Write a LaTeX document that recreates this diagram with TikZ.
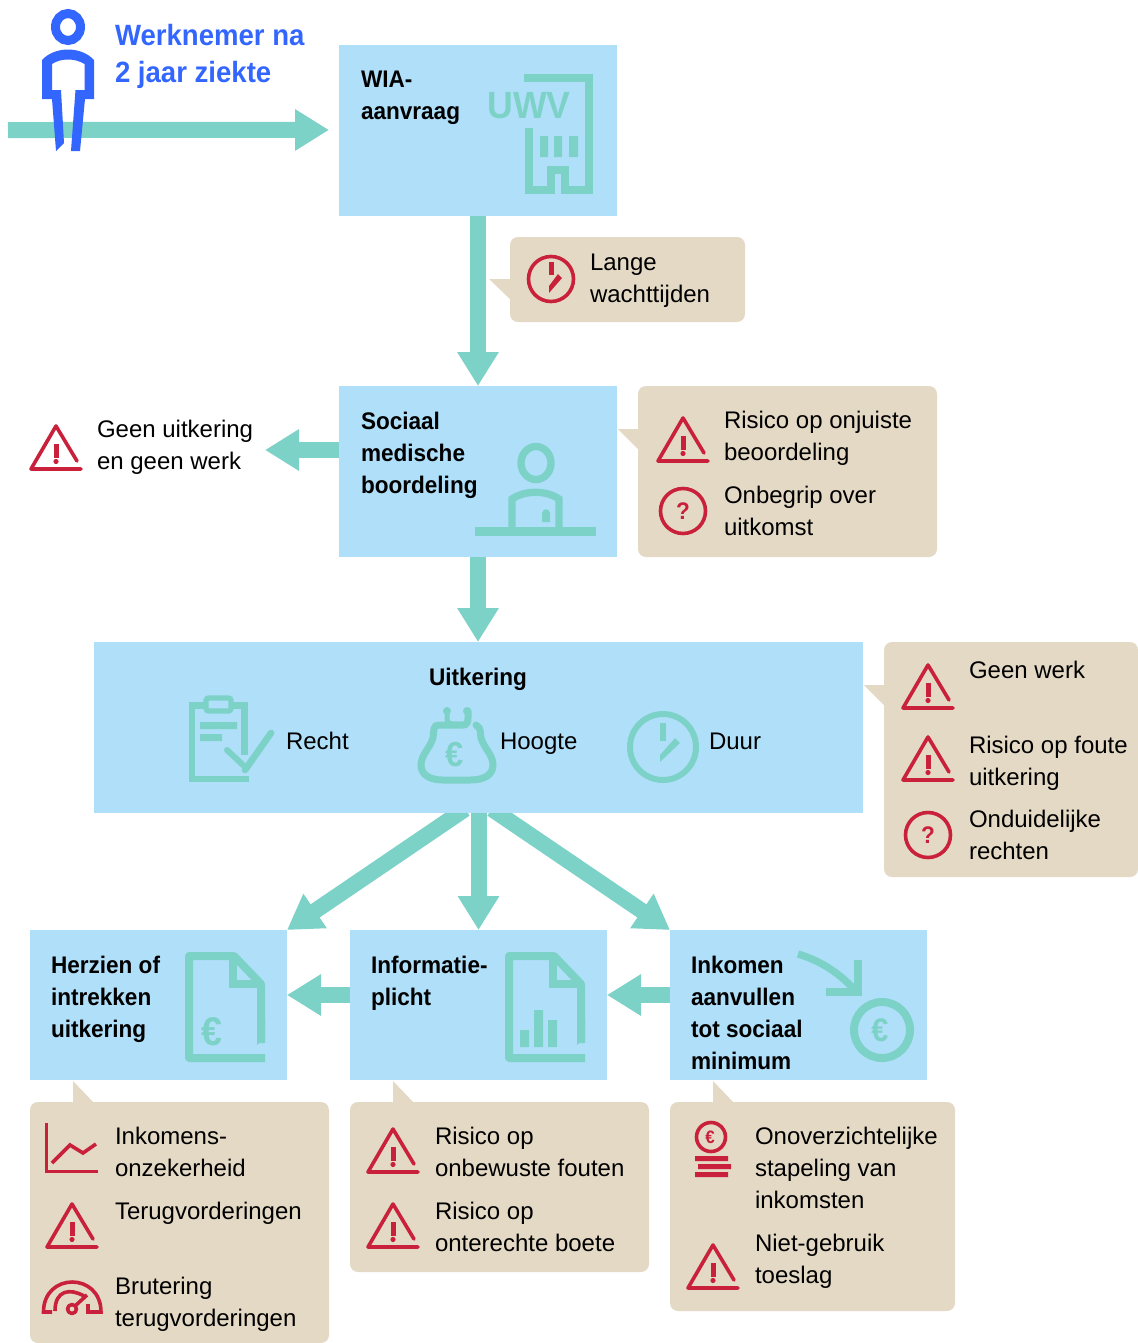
\documentclass[tikz,border=0pt]{standalone}
\usepackage{fontspec}
\setmainfont[BoldFeatures={FakeStretch=0.94}]{Liberation Sans}
\usetikzlibrary{arrows.meta}
\definecolor{skyb}{HTML}{B0DFF9}
\definecolor{tealc}{HTML}{7DD2C8}
\definecolor{beige}{HTML}{E4D9C5}
\definecolor{redc}{HTML}{C9213B}
\definecolor{bluec}{HTML}{3366FF}
\tikzset{
  flow/.style={draw=tealc,line width=12pt,-{Triangle[length=25.5pt,width=29.5pt,fill=tealc]}},
  bluebox/.style={fill=skyb,inner sep=0pt,outer sep=0pt,anchor=north west},
  callout/.style={fill=beige,rounded corners=6pt,inner sep=0pt,outer sep=0pt,anchor=north west},
  pointer/.style={fill=beige},
  txt/.style={anchor=north west,inner sep=0pt,outer sep=0pt,align=left,font=\fontsize{18pt}{24pt}\selectfont},
  btxt/.style={txt,font=\fontsize{18pt}{24pt}\selectfont\bfseries},
  hd/.style={txt,text=bluec,font=\fontsize{22pt}{27.75pt}\selectfont\bfseries},
  rstroke/.style={draw=redc,line width=2.7pt,line cap=round,line join=round},
  tstroke/.style={draw=tealc,line width=6pt,line join=miter},
}
\newcommand{\bx}[6]{\node[#6,minimum width={(#4-#2)*0.75pt},minimum height={(#5-#3)*0.75pt}] (#1) at (#2,#3) {};}
\newcommand{\T}[5][txt]{\node[#1] (#2) at (#3,{#4-22.4}) {\strut #5};}
\newcommand{\warn}[2]{\begin{scope}[shift={(#1,#2)}]
  \draw[rstroke] (21,36) -- (0,1) -- (-25,44) -- (25,44);
  \fill[redc] (-2.5,19) rectangle (2.5,33);
  \fill[redc] (0,36.5) circle (2.6);
\end{scope}}
\newcommand{\ques}[3]{\draw[rstroke] (#2,#3) circle (22.5);
  \node[inner sep=0pt,text=redc,font=\fontsize{18pt}{18pt}\selectfont\bfseries] (#1) at (#2,#3) {?};}
\newcommand{\eur}[5]{\node[inner sep=0pt,text=#5,font=\fontsize{#4}{#4}\selectfont\bfseries] (#1) at (#2,#3) {€};}
\newcommand{\docicon}[1]{\begin{scope}[shift={(#1,0)}]
  \draw[tstroke,line join=round] (265,1058) -- (189,1058) -- (189,956) -- (234,956) -- (261,984) -- (261,1043);
  \draw[tstroke] (233,958) -- (233,983.5) -- (261,983.5);
  \fill[tealc] (257,1045) -- (265,1037) -- (265,1020) -- (257,1020) -- cycle;
\end{scope}}
\begin{document}
\begin{tikzpicture}[x=0.75pt,y=-0.75pt]
\useasboundingbox (0,0) rectangle (1138,1343);
% boxes are laid out first so that the connectors can be named
\bx{wia}{339}{45}{617}{216}{bluebox}
\bx{soc}{339}{386}{617}{557}{bluebox}
\bx{uit}{94}{642}{863}{813}{bluebox}
\bx{her}{30}{930}{287}{1080}{bluebox}
\bx{inf}{350}{930}{607}{1080}{bluebox}
\bx{ink}{670}{930}{927}{1080}{bluebox}
\coordinate (start) at (8,130);
\coordinate (geen) at (265,450);
% connectors
\draw[flow] (start) -- ([xshift=-7.5pt,yshift=0.4pt]wia.west);
\draw[flow] (wia.south) -- (soc.north);
\draw[flow] (soc.south) -- (soc.south |- uit.north);
\draw[flow] (soc.west |- geen) -- (geen);
\draw[flow] (uit.south) -- (inf.north);
\draw[flow] ([xshift=-10pt,yshift=3pt]uit.south) -- (her.north east);
\draw[flow] ([xshift=10pt,yshift=3pt]uit.south) -- (ink.north west);
\draw[flow] ([yshift=7.5pt]inf.west) -- ([yshift=7.5pt]her.east);
\draw[flow] ([yshift=7.5pt]ink.west) -- ([yshift=7.5pt]inf.east);
% redraw boxes above the arrow tails
\bx{wiaf}{339}{45}{617}{216}{bluebox}
\bx{socf}{339}{386}{617}{557}{bluebox}
\bx{uitf}{94}{642}{863}{813}{bluebox}
% person
\draw[bluec,line width=6.75pt] (68,27) ellipse [x radius=12.5,y radius=13.5];
\fill[bluec] (42,60) .. controls (55,46) and (81,46) .. (94,60) -- (94,99) -- (85,99) -- (80,151) -- (71,151)
  -- (75.5,90) -- (84.5,90) -- (84.5,64) .. controls (75,58) and (61,58) .. (52,64) -- (52,90) -- (61,90)
  -- (64,143) -- (56,151) -- (52,99) -- (42,99) -- cycle;
\T[hd]{werk}{115}{42}{Werknemer na\\2 jaar ziekte}
% WIA
\T[btxt]{wiat}{361}{87}{WIA-\\aanvraag}
\node[anchor=base west,inner sep=0pt,text=tealc,font=\fontsize{28.5pt}{28.5pt}\selectfont\bfseries] (uwv) at (487,118) {UWV};
\draw[tstroke] (528.5,128) -- (528.5,190) -- (551,190) -- (551,170) -- (565,170) -- (565,190) -- (589,190) -- (589,78) -- (524,78);
\fill[tealc] (540,136) rectangle (548,157) (554,136) rectangle (562,157) (569,136) rectangle (578,157);
% Lange wachttijden
\fill[pointer] (489,279) -- (512,279) -- (512,301) -- cycle;
\bx{langec}{510}{237}{745}{322}{callout}
\draw[rstroke] (551,279) circle (22.5);
\fill[redc] (549,262) rectangle (553.5,275);
\fill[redc] (558,274) -- (562,278) -- (549,293) -- (549,286) -- cycle;
\T{lange}{590}{270}{Lange\\wachttijden}
% Sociaal medische beoordeling
\T[btxt]{soct}{361}{429}{Sociaal\\medische\\boordeling}
\draw[tealc,line width=5.5pt] (536,463) ellipse [x radius=15,y radius=16.5];
\draw[tstroke,line width=5.5pt] (512,527) -- (512,499) .. controls (525,490) and (546,490) .. (559,499) -- (559,527);
\fill[tealc] (475,527) rectangle (596,536);
\fill[tealc] (542,522) -- (542,513) .. controls (543,508) and (549,508) .. (550,513) -- (550,522) -- cycle;
\warn{56}{425}
\T{geent}{97}{437}{Geen uitkering\\en geen werk}
\fill[pointer] (618,429) -- (640,429) -- (640,451) -- cycle;
\bx{socc}{638}{386}{937}{557}{callout}
\warn{683}{417}
\ques{qa}{683}{511}
\T{rona}{724}{428}{Risico op onjuiste\\beoordeling}
\T{onb}{724}{503}{Onbegrip over\\uitkomst}
% Uitkering
\node[anchor=base,inner sep=0pt,font=\fontsize{18pt}{24pt}\selectfont\bfseries] (uitt) at (478,685) {Uitkering};
\begin{scope}
  \draw[tstroke,line width=5pt] (244.5,755) -- (244.5,705.5) -- (192,705.5) -- (192,779) -- (248.5,779);
  \draw[fill=skyb,draw=tealc,line width=4pt,rounded corners=2pt] (206,698) rectangle (231,711);
  \fill[tealc] (200,722) rectangle (237,729) (200,734) rectangle (222,741);
  \draw[tealc,line width=4.5pt,line cap=round] (227,750) -- (243,765);
  \draw[tealc,line width=5pt,line cap=round] (271,733) -- (245,770);
\end{scope}
\T{recht}{286}{749}{Recht}
\draw[tealc,line width=5.25pt,line cap=round] (476,725) .. controls (482,728) and (480,735) .. (481,738) .. controls (484,748) and (493,755) .. (493,765) .. controls (493,775) and (484,780) .. (470,780) -- (443,780) .. controls (430,780) and (421,775) .. (421,765) .. controls (421,755) and (430,748) .. (433,738) .. controls (434,730) and (433,725) .. (439,725) -- (463,725) .. controls (467,725) and (468,722) .. (468,718) -- (468,711);
\draw[tealc,line width=3.75pt,line cap=round] (447,711) -- (447,718) .. controls (447,722) and (449,724) .. (453,724) -- (465,724);
\fill[tealc] (447,711) circle (4) (467,711) circle (4);
\eur{ea}{455}{755}{26pt}{tealc}
\T{hoogte}{500}{749}{Hoogte}
\draw[tealc,line width=4.5pt] (663,747) circle (33);
\fill[tealc] (660,723) rectangle (666,741);
\fill[tealc] (675,738) -- (680,743) -- (660,762) -- (660,755) -- cycle;
\T{duur}{709}{749}{Duur}
\fill[pointer] (864,685) -- (886,685) -- (886,707) -- cycle;
\bx{uitc}{884}{642}{1138}{877}{callout}
\warn{928}{664}
\warn{928}{736}
\ques{qb}{928}{835}
\T{gw}{969}{678}{Geen werk}
\T{rf}{969}{753}{Risico op foute\\uitkering}
\T{ond}{969}{827}{Onduidelijke\\rechten}
% Herzien
\bx{herf}{30}{930}{287}{1080}{bluebox}
\bx{inff}{350}{930}{607}{1080}{bluebox}
\bx{inkf}{670}{930}{927}{1080}{bluebox}
\T[btxt]{hert}{51}{973}{Herzien of\\intrekken\\uitkering}
\docicon{0}
\eur{eb}{212}{1032}{30pt}{tealc}
\fill[pointer] (73,1081) -- (73,1104) -- (95,1104) -- cycle;
\bx{herc}{30}{1102}{329}{1343}{callout}
\draw[rstroke,line cap=butt,line join=miter] (46.5,1123) -- (46.5,1171.5) -- (98,1171.5);
\draw[rstroke,line cap=butt,line join=miter] (52,1163) -- (70,1145) -- (83,1153) -- (96,1144);
\T{ik}{115}{1144}{Inkomens-\\onzekerheid}
\warn{72}{1203}
\T{tv}{115}{1219}{Terugvorderingen}
\draw[rstroke,line cap=butt,line join=miter] (52,1312) -- (43.5,1312) .. controls (43.5,1272) and (101,1272) .. (101,1312) -- (88,1312) -- (88,1304);
\draw[rstroke,line cap=butt] (55,1311) .. controls (55,1290) and (70,1288) .. (84,1296);
\draw[rstroke,fill=beige] (72,1309) circle (4.5);
\draw[rstroke,line cap=butt] (75,1306) -- (87,1295);
\T{br}{115}{1294}{Brutering\\terugvorderingen}
% Informatie
\T[btxt]{inft}{371}{973}{Informatie-\\plicht}
\docicon{320}
\fill[tealc] (520,1030) rectangle (529,1047) (534,1010) rectangle (543,1047) (548,1020) rectangle (557,1047);
\fill[pointer] (393,1081) -- (393,1104) -- (415,1104) -- cycle;
\bx{infc}{350}{1102}{649}{1272}{callout}
\warn{393}{1128}
\warn{393}{1203}
\T{rob}{435}{1144}{Risico op\\onbewuste fouten}
\T{rob2}{435}{1219}{Risico op\\onterechte boete}
% Inkomen
\T[btxt]{inkt}{691}{973}{Inkomen\\aanvullen\\tot sociaal\\minimum}
\draw[tealc,line width=5.5pt] (798,954) .. controls (825,962) and (845,978) .. (858,994);
\draw[tstroke] (858,960) -- (858,992) -- (826,992);
\draw[tstroke] (882,1030) circle (28);
\eur{ec}{880}{1030}{24.5pt}{tealc}
\fill[pointer] (713,1081) -- (713,1104) -- (735,1104) -- cycle;
\bx{inkc}{670}{1102}{955}{1311}{callout}
\draw[rstroke] (711,1137) circle (14.5);
\eur{ed}{710}{1137}{13.5pt}{redc}
\fill[redc] (695,1156) rectangle (728,1161) (698,1164) rectangle (731,1169) (695,1172) rectangle (728,1177);
\T{ono}{755}{1144}{Onoverzichtelijke\\stapeling van\\inkomsten}
\warn{713}{1244}
\T{nie}{755}{1251}{Niet-gebruik\\toeslag}
\end{tikzpicture}
\end{document}
